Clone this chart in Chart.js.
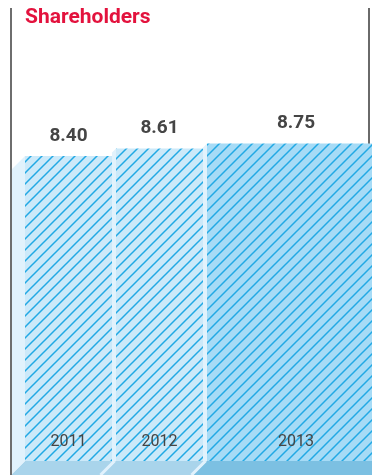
<!DOCTYPE html>
<html>
<head>
<meta charset="utf-8">
<script src="https://cdn.jsdelivr.net/npm/chart.js@4/dist/chart.umd.min.js"></script>
<style>
  html, body { margin: 0; padding: 0; background: #fff; overflow: hidden; }
  #frame { width: 372px; height: 475px; overflow: hidden; position: relative; }
  #wrap { width: 400px; height: 475px; position: absolute; left: 0; top: 0; }
</style>
</head>
<body>
<div id="frame"><div id="wrap"><canvas id="chart"></canvas></div></div>
<script>
// Shareholders per year
const years = ['2011', '2012', '2013'];
const shareholders = [8.40, 8.61, 8.75];

// Look of the prism bars
const look = {
  spans: [1, 1, 2],            // relative width of each bar
  gap: 4,                      // light seam between bars
  depth: 13,                   // depth of the left side face
  face: ['#cce9f9', '#cce9f9', '#a6dbf6'],
  stripe: '#22a9e4',
  side: '#e1f2fc',
  floor: ['#a9d4eb', '#a9d4eb', '#7cc0e2'],
  rule: '#6e6e6e',
  text: '#454545'
};

function hatch(bg) {
  const s = 11;
  const c = document.createElement('canvas');
  c.width = s; c.height = s;
  const g = c.getContext('2d');
  g.fillStyle = bg;
  g.fillRect(0, 0, s, s);
  g.strokeStyle = look.stripe;
  g.lineWidth = 1.5;
  g.beginPath();
  g.moveTo(-2, s + 2); g.lineTo(s + 2, -2);
  g.moveTo(-2, 2); g.lineTo(2, -2);
  g.moveTo(s - 2, s + 2); g.lineTo(s + 2, s - 2);
  g.stroke();
  return g.createPattern(c, 'repeat');
}

function poly(ctx, pts, fill) {
  ctx.beginPath();
  ctx.moveTo(pts[0][0], pts[0][1]);
  for (let i = 1; i < pts.length; i++) ctx.lineTo(pts[i][0], pts[i][1]);
  ctx.closePath();
  ctx.fillStyle = fill;
  ctx.fill();
}

const prism = {
  id: 'prism',
  afterDatasetsUpdate(chart) {
    // lay bars side by side, each as wide as its span
    const meta = chart.getDatasetMeta(0);
    const area = chart.chartArea;
    const total = look.spans.reduce((a, b) => a + b, 0);
    const unit = (area.right - area.left) / total;
    let start = 0;
    meta.data.forEach((bar, i) => {
      const w = look.spans[i] * unit - look.gap;
      const left = area.left + start * unit;
      bar.x = left + w / 2;
      bar.width = w;
      start += look.spans[i];
    });
  },
  beforeDatasetsDraw(chart) {
    const ctx = chart.ctx;
    const meta = chart.getDatasetMeta(0);
    const base = chart.scales.y.getPixelForValue(0);
    const drop = chart.height - base;
    const d = look.depth, g = look.gap;
    ctx.save();
    // right rule, hidden behind the widest bar
    ctx.strokeStyle = '#454545';
    ctx.lineWidth = 1.6;
    ctx.beginPath();
    ctx.moveTo(369, 8);
    ctx.lineTo(369, base);
    ctx.stroke();
    // floor strip
    meta.data.forEach((bar, i) => {
      const L = bar.x - bar.width / 2;
      const next = meta.data[i + 1];
      const R = next ? next.x - next.width / 2 : chart.width + drop;
      poly(ctx, [[L, base], [R, base], [R - drop, base + drop], [L - drop, base + drop]], look.floor[i]);
    });
    // side faces and seams
    meta.data.forEach((bar, i) => {
      const L = bar.x - bar.width / 2;
      const top = bar.y;
      if (i === 0) {
        poly(ctx, [[L - d, top + d], [L, top], [L, base], [L - drop, base + drop], [L - d, base + drop]], look.side);
      } else {
        poly(ctx, [[L - g, top + g], [L, top], [L, base], [L - g, base]], look.side);
        ctx.strokeStyle = look.side;
        ctx.lineWidth = 3;
        ctx.beginPath();
        ctx.moveTo(L - 1.5, base);
        ctx.lineTo(L - 1.5 - drop, base + drop);
        ctx.stroke();
      }
    });
    ctx.restore();
  },
  afterDatasetsDraw(chart) {
    const ctx = chart.ctx;
    const meta = chart.getDatasetMeta(0);
    const base = chart.scales.y.getPixelForValue(0);
    ctx.save();
    // left rule
    ctx.strokeStyle = look.rule;
    ctx.lineWidth = 2;
    ctx.beginPath();
    ctx.moveTo(11, 8);
    ctx.lineTo(11, chart.height);
    ctx.stroke();
    ctx.fillStyle = look.text;
    ctx.textAlign = 'center';
    ctx.textBaseline = 'alphabetic';
    meta.data.forEach((bar, i) => {
      ctx.font = 'bold 19px Roboto, "DejaVu Sans", sans-serif';
      ctx.fillText(shareholders[i].toFixed(2), bar.x, bar.y - 15.5);
      ctx.font = '16px Roboto, "DejaVu Sans", sans-serif';
      ctx.fillText(years[i], bar.x, base - 15);
    });
    ctx.restore();
  }
};

new Chart(document.getElementById('chart'), {
  type: 'bar',
  data: {
    labels: years,
    datasets: [{
      label: 'Shareholders',
      data: shareholders,
      backgroundColor: look.face.map(hatch),
      borderWidth: 0
    }]
  },
  options: {
    responsive: true,
    maintainAspectRatio: false,
    animation: false,
    events: [],
    layout: { padding: { left: 25, right: 11, top: 4, bottom: 14 } },
    scales: {
      x: { display: false },
      y: { display: false, min: 0, max: 12 }
    },
    plugins: {
      legend: { display: false },
      tooltip: { enabled: false },
      title: {
        display: true,
        text: 'Shareholders',
        align: 'start',
        color: '#e3123d',
        font: { family: 'Roboto', weight: 'bold', size: 21, lineHeight: 0.7 },
        padding: { top: 6.7, bottom: 0 }
      }
    }
  },
  plugins: [prism]
});
</script>
</body>
</html>
